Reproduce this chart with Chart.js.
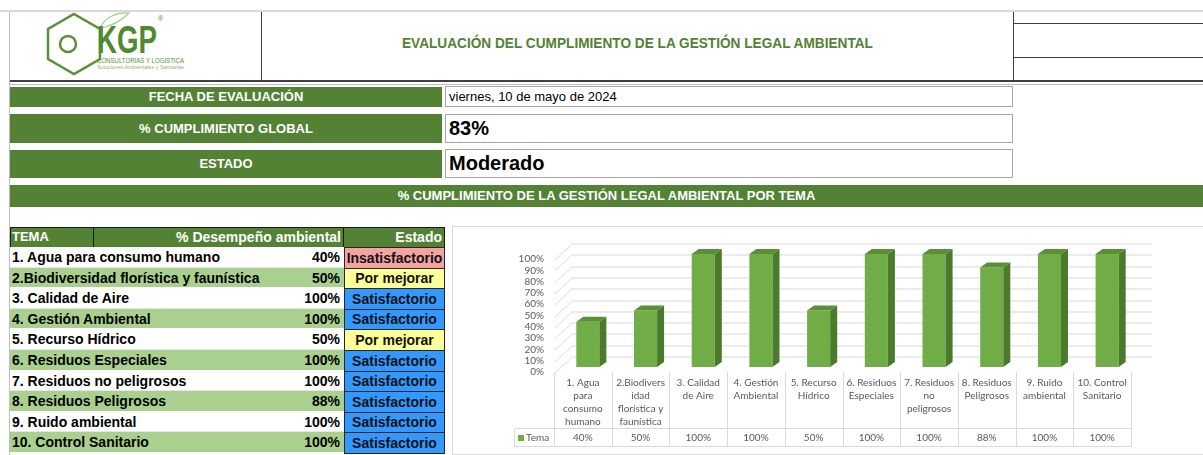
<!DOCTYPE html>
<html lang="es">
<head>
<meta charset="utf-8">
<title>Evaluación del cumplimiento de la gestión legal ambiental</title>
<script src="https://cdn.jsdelivr.net/npm/chart.js@4.4.1/dist/chart.umd.min.js"></script>
<style>
  html, body { margin: 0; padding: 0; background: #fff; }
  body {
    width: 1203px;
    height: 455px;
    position: relative;
    overflow: hidden;
    font-family: "Liberation Sans", Arial, sans-serif;
  }
  .abs { position: absolute; box-sizing: border-box; }
  .linea { position: absolute; }
  .verde {
    background: #548235;
    color: #fff;
    font-weight: bold;
    font-size: 13px;
    text-align: center;
  }
  .caja {
    border: 1px solid #a6a6a6;
    background: #fff;
    color: #000;
    padding-left: 3px;
    white-space: nowrap;
  }
  .fila {
    font-weight: bold;
    font-size: 14px;
    color: #000;
    white-space: nowrap;
  }
  .estado {
    border: 1px solid #262626;
    text-align: center;
    font-weight: bold;
    font-size: 14px;
    color: #111;
  }
  #titulo {
    font-family: "Liberation Sans", Arial, sans-serif;
    font-weight: bold;
    font-size: 15px;
    color: #548235;
    text-align: center;
    white-space: nowrap;
    transform: scaleX(0.91);
    transform-origin: 375px 50%;
  }
</style>
</head>
<body>

<!-- marco superior -->
<div class="linea" style="left:0; top:10px; width:1203px; height:2px; background:#d9d9d9"></div>
<div class="linea" style="left:9px; top:12px; width:1px; height:443px; background:#bfbfbf"></div>

<!-- encabezado -->
<div class="abs" style="left:10px; top:12px; width:251px; height:68px;">
  <svg width="251" height="68" viewBox="0 0 251 68">
    <polygon points="64,2 90,17 90,47 64,62 38,47 38,17" fill="none" stroke="#5b8f3a" stroke-width="2.5"/>
    <circle cx="58" cy="32" r="8" fill="none" stroke="#5b8f3a" stroke-width="2.5"/>
    <path d="M90 16 C95 5, 107 0, 119 1 C113 7, 104 14, 90 16 Z" fill="none" stroke="#a9c98f" stroke-width="1.2"/>
    <text x="87" y="41" font-family="Liberation Sans, Arial" font-weight="bold" font-size="38" fill="#4e8a2e" textLength="60" lengthAdjust="spacingAndGlyphs">KGP</text>
    <text x="148" y="9" font-family="Liberation Sans, Arial" font-size="7" fill="#4e8a2e">®</text>
    <text x="87" y="51" font-family="Liberation Sans, Arial" font-size="6.5" fill="#5b8f3a" textLength="87" lengthAdjust="spacingAndGlyphs">CONSULTORIAS Y LOGISTICA</text>
    <text x="87" y="56.5" font-family="Liberation Sans, Arial" font-size="4.5" fill="#8fb56f" textLength="87" lengthAdjust="spacingAndGlyphs">Soluciones Ambientales y Sanitarias</text>
  </svg>
</div>
<div class="linea" style="left:261px; top:12px; width:1px; height:68px; background:#404040"></div>
<div class="abs" id="titulo" style="left:262px; top:34px; width:751px; line-height:18px;">EVALUACIÓN DEL CUMPLIMIENTO DE LA GESTIÓN LEGAL AMBIENTAL</div>
<div class="linea" style="left:1013px; top:12px; width:1px; height:68px; background:#404040"></div>
<div class="linea" style="left:1013px; top:23px; width:190px; height:1px; background:#404040"></div>
<div class="linea" style="left:1013px; top:57px; width:190px; height:1px; background:#404040"></div>
<div class="linea" style="left:10px; top:80px; width:1193px; height:1.5px; background:#404040"></div>
<div class="linea" style="left:10px; top:84px; width:1193px; height:1px; background:#bfbfbf"></div>

<!-- datos generales -->
<div class="abs verde" style="left:10px; top:87px; width:432px; height:20px; line-height:20px;">FECHA DE EVALUACIÓN</div>
<div class="abs caja" id="fecha" style="left:445px; top:86px; width:568px; height:21px; line-height:19px; font-size:13px;"></div>

<div class="abs verde" style="left:10px; top:114px; width:432px; height:29px; line-height:29px;">% CUMPLIMIENTO GLOBAL</div>
<div class="abs caja" id="global" style="left:445px; top:114px; width:568px; height:29px; line-height:26px; font-size:20px; font-weight:bold;"></div>

<div class="abs verde" style="left:10px; top:150px; width:432px; height:28px; line-height:28px;">ESTADO</div>
<div class="abs caja" id="estadoGlobal" style="left:445px; top:149px; width:568px; height:29px; line-height:26px; font-size:20px; font-weight:bold;"></div>

<div class="abs verde" style="left:10px; top:185px; width:1193px; height:22px; line-height:21px;">% CUMPLIMIENTO DE LA GESTIÓN LEGAL AMBIENTAL POR TEMA</div>

<!-- tabla por tema -->
<div id="tabla"></div>

<!-- grafico -->
<div class="abs" style="left:452px; top:226px; width:751px; height:229px; border-top:1px solid #d9d9d9; border-left:1px solid #d9d9d9; border-bottom:1px solid #d9d9d9;">
  <div style="position:relative; width:750px; height:227px;">
    <canvas id="grafico"></canvas>
  </div>
</div>

<script>
// Datos
const fechaEvaluacion = 'viernes, 10 de mayo de 2024';
const cumplimientoGlobal = '83%';
const estadoGlobal = 'Moderado';

const temas = [
  '1. Agua para consumo humano',
  '2.Biodiversidad florística y faunística',
  '3. Calidad de Aire',
  '4. Gestión Ambiental',
  '5. Recurso Hídrico',
  '6. Residuos Especiales',
  '7. Residuos no peligrosos',
  '8. Residuos Peligrosos',
  '9. Ruido ambiental',
  '10. Control Sanitario'
];

// etiquetas del eje tal como salen partidas en la tabla del grafico
const temasEje = [
  ['1. Agua', 'para', 'consumo', 'humano'],
  ['2.Biodivers', 'idad', 'florística y', 'faunística'],
  ['3. Calidad', 'de Aire'],
  ['4. Gestión', 'Ambiental'],
  ['5. Recurso', 'Hídrico'],
  ['6. Residuos', 'Especiales'],
  ['7. Residuos', 'no', 'peligrosos'],
  ['8. Residuos', 'Peligrosos'],
  ['9. Ruido', 'ambiental'],
  ['10. Control', 'Sanitario']
];

const desempeno = [40, 50, 100, 100, 50, 100, 100, 88, 100, 100];

const estados = [
  'Insatisfactorio', 'Por mejorar', 'Satisfactorio', 'Satisfactorio', 'Por mejorar',
  'Satisfactorio', 'Satisfactorio', 'Satisfactorio', 'Satisfactorio', 'Satisfactorio'
];

const nombreSerie = 'Tema';

const colorEstado = {
  'Insatisfactorio': '#f4a3a3',
  'Por mejorar': '#ffff99',
  'Satisfactorio': '#3399ff'
};

const frenteBarra = '#70ad47';
const techoBarra = '#5a8f37';
const ladoBarra = '#4a7a2b';
const grisTexto = '#595959';
const grisLinea = '#d9d9d9';

// Datos generales
document.getElementById('fecha').textContent = fechaEvaluacion;
document.getElementById('global').textContent = cumplimientoGlobal;
document.getElementById('estadoGlobal').textContent = estadoGlobal;

// Tabla de temas
function construirTabla() {
  const cont = document.getElementById('tabla');
  let html = '';

  // encabezado
  html += '<div class="abs" style="left:10px; top:227px; width:435px; height:21px; background:#548235; border:1px solid #1a1a1a;"></div>';
  html += '<div class="linea" style="left:93px; top:227px; width:1px; height:21px; background:#1a1a1a"></div>';
  html += '<div class="linea" style="left:343px; top:227px; width:1px; height:21px; background:#1a1a1a"></div>';
  html += '<div class="abs" style="left:12px; top:228px; color:#fff; font-weight:bold; font-size:13px; line-height:18px;">TEMA</div>';
  html += '<div class="abs" style="left:94px; top:228px; width:247px; text-align:right; color:#fff; font-weight:bold; font-size:14px; line-height:18px;">% Desempeño ambiental</div>';
  html += '<div class="abs" style="left:344px; top:228px; width:98px; text-align:right; color:#fff; font-weight:bold; font-size:14px; line-height:18px;">Estado</div>';

  temas.forEach((t, i) => {
    const top = Math.round(247 + i * 20.6);
    const alto = Math.round(247 + (i + 1) * 20.6) - top;
    const fondo = i % 2 === 0 ? '#ffffff' : '#a9d08e';
    html += `<div class="abs fila" style="left:10px; top:${top}px; width:334px; height:${alto}px; line-height:${alto}px; background:${fondo}; border-bottom:1px solid ${i % 2 === 0 ? '#e6e6e6' : '#ffffff'};">
      <span style="position:absolute; left:2px;">${t}</span>
      <span style="position:absolute; right:4px;">${desempeno[i]}%</span>
    </div>`;
    html += `<div class="abs estado" style="left:344px; top:${top}px; width:101px; height:${alto + 1}px; line-height:${alto - 1}px; background:${colorEstado[estados[i]]};">${estados[i]}</div>`;
  });

  cont.innerHTML = html;
}
construirTabla();

// Columnas en 3D al estilo de Excel y tabla de datos bajo el eje
const efecto3d = {
  id: 'efecto3d',
  beforeDatasetsDraw(chart) {
    const { ctx, chartArea: a, scales: { y } } = chart;
    ctx.save();
    ctx.strokeStyle = grisLinea;
    ctx.lineWidth = 1;
    y.ticks.forEach(t => {
      const py = Math.round(y.getPixelForValue(t.value)) + 0.5;
      ctx.beginPath();
      ctx.moveTo(a.left + 1, py + 5.5);
      ctx.lineTo(a.left + 18, py - 10.5);
      ctx.lineTo(a.right + 21, py - 10.5);
      ctx.stroke();
    });
    ctx.restore();
  },
  beforeDatasetDraw(chart) {
    chart.ctx.save();
    chart.ctx.translate(5, 0);
  },
  afterDatasetDraw(chart, args) {
    const ctx = chart.ctx;
    args.meta.data.forEach(bar => {
      const { x, y, base, width } = bar.getProps(['x', 'y', 'base', 'width'], true);
      const l = x - width / 2;
      const r = x + width / 2;
      ctx.fillStyle = ladoBarra;
      ctx.beginPath();
      ctx.moveTo(r, y);
      ctx.lineTo(r + 7, y - 5);
      ctx.lineTo(r + 7, base - 5);
      ctx.lineTo(r, base);
      ctx.closePath();
      ctx.fill();
      ctx.fillStyle = techoBarra;
      ctx.beginPath();
      ctx.moveTo(l, y);
      ctx.lineTo(l + 7, y - 5);
      ctx.lineTo(r + 7, y - 5);
      ctx.lineTo(r, y);
      ctx.closePath();
      ctx.fill();
    });
    ctx.restore();
  },
  afterDraw(chart) {
    const { ctx, chartArea: a, scales: { x } } = chart;
    const n = x.ticks.length;
    const paso = (a.right - a.left) / n;
    const filaTop = a.bottom + 61.5;
    const filaBottom = a.bottom + 79.5;
    const inicioLeyenda = 61.5;

    ctx.save();
    ctx.strokeStyle = grisLinea;
    ctx.lineWidth = 1;
    for (let i = 0; i <= n; i++) {
      const bx = Math.round(a.left + i * paso) + 0.5;
      ctx.beginPath();
      ctx.moveTo(bx, a.bottom + 5);
      ctx.lineTo(bx, filaBottom);
      ctx.stroke();
    }
    ctx.beginPath();
    ctx.moveTo(inicioLeyenda, filaTop);
    ctx.lineTo(a.right + 0.5, filaTop);
    ctx.moveTo(inicioLeyenda, filaBottom);
    ctx.lineTo(a.right + 0.5, filaBottom);
    ctx.moveTo(inicioLeyenda, filaTop);
    ctx.lineTo(inicioLeyenda, filaBottom);
    ctx.stroke();

    const yTexto = a.bottom + 71;
    ctx.fillStyle = frenteBarra;
    ctx.fillRect(65, yTexto - 3, 6, 6);

    ctx.font = '10px Lato';
    ctx.fillStyle = grisTexto;
    ctx.textBaseline = 'middle';
    ctx.textAlign = 'left';
    ctx.fillText(nombreSerie, 73, yTexto);
    ctx.textAlign = 'center';
    desempeno.forEach((v, i) => {
      ctx.fillText(v + '%', x.getPixelForValue(i), yTexto);
    });
    ctx.restore();
  }
};

function dibujarGrafico() {
  new Chart(document.getElementById('grafico'), {
    type: 'bar',
    data: {
      labels: temasEje,
      datasets: [{
        label: nombreSerie,
        data: desempeno,
        backgroundColor: frenteBarra,
        borderWidth: 0,
        barPercentage: 0.4,
        categoryPercentage: 1.0,
        clip: false
      }]
    },
    options: {
      responsive: true,
      maintainAspectRatio: false,
      animation: false,
      events: [],
      layout: { padding: { left: 0, right: 72, top: 27, bottom: 7 } },
      plugins: {
        legend: { display: false },
        tooltip: { enabled: false }
      },
      scales: {
        x: {
          grid: { display: false, drawTicks: false },
          border: { display: false },
          ticks: {
            autoSkip: false,
            maxRotation: 0,
            minRotation: 0,
            padding: 9.5,
            color: grisTexto,
            font: { family: 'Lato', size: 10, lineHeight: 1.3 }
          },
          afterFit(s) { s.height = 80; }
        },
        y: {
          min: 0,
          max: 100,
          grid: { display: false, drawTicks: false },
          border: { display: false },
          ticks: {
            autoSkip: false,
            stepSize: 10,
            padding: 10,
            labelOffset: 5,
            color: grisTexto,
            font: { family: 'Lato', size: 10, lineHeight: 1 },
            callback: v => v + '%'
          },
          afterFit(s) { s.width = 101; }
        }
      }
    },
    plugins: [efecto3d]
  });
}

Promise.all([
  document.fonts.load('10px Lato'),
  document.fonts.load('bold 14px "Liberation Sans"')
]).catch(() => {}).then(dibujarGrafico);
</script>
</body>
</html>
